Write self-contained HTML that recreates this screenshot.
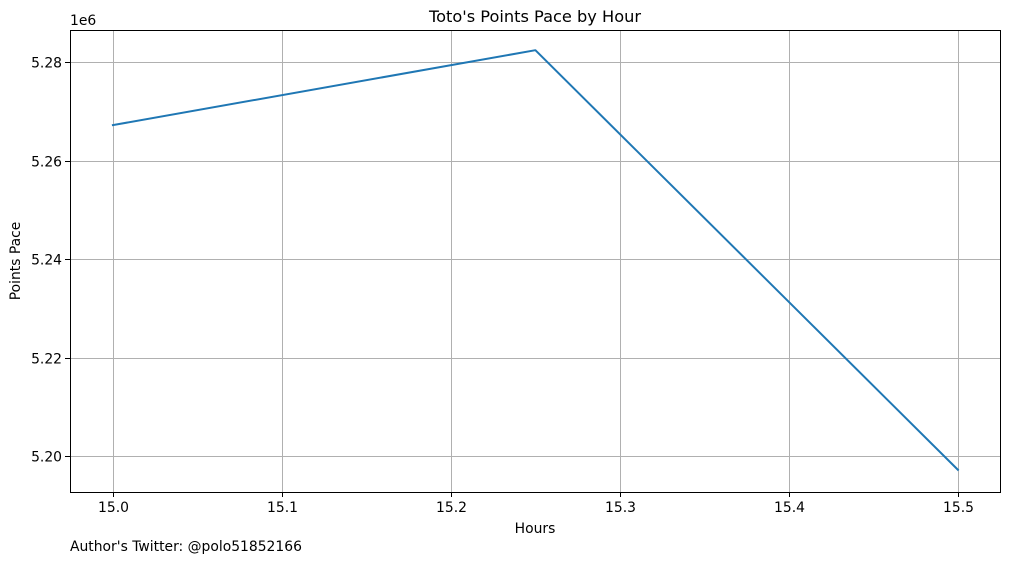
<!DOCTYPE html>
<html><head><meta charset="utf-8"><style>
body{margin:0;background:#fff;}
svg text{font-family:"DejaVu Sans","Liberation Sans",sans-serif;fill:#000;}
</style></head><body>
<svg id="chart" width="1010" height="562" xmlns="http://www.w3.org/2000/svg">
<rect width="1010" height="562" fill="#fff"/>
<g id="grid"></g>
<g id="series"></g>
<rect x="70.5" y="30.5" width="930" height="462" fill="none" stroke="#000" stroke-width="1"/>
<g id="ticks"></g>
<text x="535" y="22" font-size="16.2" text-anchor="middle">Toto's Points Pace by Hour</text>
<text x="535" y="533" font-size="13.9" text-anchor="middle">Hours</text>
<text transform="translate(20,261) rotate(-90)" font-size="13.9" text-anchor="middle">Points Pace</text>
<text x="70" y="25" font-size="13.9">1e6</text>
<text x="70" y="551" font-size="13.9">Author's Twitter: @polo51852166</text>
</svg>
<script>
const hours = [15.0, 15.25, 15.5];
const pace = [5267200, 5282400, 5197200];
const xTicks = [15.0, 15.1, 15.2, 15.3, 15.4, 15.5];
const xTickLabels = ["15.0", "15.1", "15.2", "15.3", "15.4", "15.5"];
const yTicks = [5200000, 5220000, 5240000, 5260000, 5280000];
const yTickLabels = ["5.20", "5.22", "5.24", "5.26", "5.28"];

const NS = "http://www.w3.org/2000/svg";
const X0 = 70, X1 = 1000, Y0 = 30, Y1 = 492;
const xMin = 14.9746, xMax = 15.5249, yMin = 5192700, yMax = 5286500;
function sx(v){return X0 + (v - xMin) / (xMax - xMin) * (X1 - X0);}
function sy(v){return Y1 - (v - yMin) / (yMax - yMin) * (Y1 - Y0);}
function mk(tag, attrs, parent){const e=document.createElementNS(NS,tag);for(const k in attrs)e.setAttribute(k,attrs[k]);parent.appendChild(e);return e;}
const grid=document.getElementById('grid'), ticks=document.getElementById('ticks'), series=document.getElementById('series');

xTicks.forEach((t,i)=>{
  const x=Math.round(sx(t))+0.5;
  const g=mk('line',{x1:x,x2:x,y1:Y0,y2:Y1,stroke:'#b0b0b0','stroke-width':1},grid);
  
  
  const tk=mk('line',{x1:x,x2:x,y1:Y1,y2:Y1+5,stroke:'#000','stroke-width':1},ticks);
  
  
  const lb=mk('text',{x:x,y:Y1+20,'font-size':13.9,'text-anchor':'middle'},ticks);
  lb.textContent=xTickLabels[i];
  
  
});
yTicks.forEach((t,i)=>{
  const y=Math.round(sy(t))+0.5;
  const g=mk('line',{x1:X0,x2:X1,y1:y,y2:y,stroke:'#b0b0b0','stroke-width':1},grid);
  
  
  const tk=mk('line',{x1:X0-5,x2:X0,y1:y,y2:y,stroke:'#000','stroke-width':1},ticks);
  
  
  const lb=mk('text',{x:X0-8,y:y+5,'font-size':13.9,'text-anchor':'end'},ticks);
  lb.textContent=yTickLabels[i];
  
  
});
const pts=hours.map((h,i)=>sx(h).toFixed(1)+','+sy(pace[i]).toFixed(1)).join(' ');
const pl=mk('polyline',{points:pts,fill:'none',stroke:'#1f77b4','stroke-width':2,'stroke-linejoin':'round','stroke-linecap':'square'},series);


</script>
</body></html>
